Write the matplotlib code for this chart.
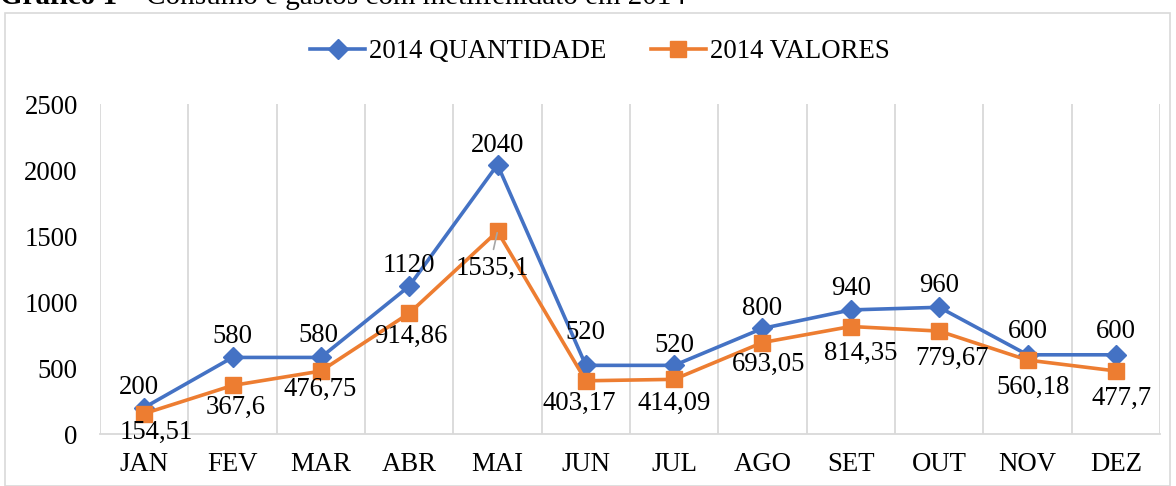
import matplotlib
matplotlib.use("Agg")
import matplotlib.pyplot as plt
from matplotlib.patches import Rectangle
from matplotlib.lines import Line2D

plt.rcParams['font.family'] = ['Liberation Serif', 'DejaVu Serif']

months = ["JAN", "FEV", "MAR", "ABR", "MAI", "JUN", "JUL", "AGO", "SET", "OUT", "NOV", "DEZ"]
quantidade = [200, 580, 580, 1120, 2040, 520, 520, 800, 940, 960, 600, 600]
valores = [154.51, 367.6, 476.75, 914.86, 1535.1, 403.17, 414.09, 693.05, 814.35, 779.67, 560.18, 477.7]
valores_labels = ["154,51", "367,6", "476,75", "914,86", "1535,1", "403,17", "414,09",
                  "693,05", "814,35", "779,67", "560,18", "477,7"]
series_names = ["2014 QUANTIDADE", "2014 VALORES"]
yticks = [0, 500, 1000, 1500, 2000, 2500]

BLUE = "#4472C4"
ORANGE = "#ED7D31"
GRID = "#D9D9D9"
FS = 19.3

W, H = 1176, 486
fig = plt.figure(figsize=(W / 100, H / 100), dpi=100)

# outer chart border
fig.patches.append(Rectangle((5 / W, 0), (1170 - 5) / W, 1 - 13 / H,
                             transform=fig.transFigure, fill=False,
                             edgecolor=GRID, linewidth=1.2))

# cut-off title
fig.text(0 / W, 1 - 4 / H, "Gráfico 1", fontsize=21, fontweight='bold',
         ha='left', va='baseline')
fig.text(686 / W, 1 - 4 / H, "– Consumo e gastos com metilfenidato em 2014",
         fontsize=21, ha='right', va='baseline')

ax = fig.add_axes([100 / W, (H - 434) / H, (1160 - 100) / W, (434 - 104) / H])
x = list(range(len(months)))

ax.plot(x, quantidade, color=BLUE, lw=2.6, marker='D', markersize=10, zorder=3)
ax.plot(x, valores, color=ORANGE, lw=2.6, marker='s', markersize=11, zorder=3)

ax.set_xlim(-0.5, len(months) - 0.5)
ax.set_ylim(0, 2500)
ax.set_yticks(yticks)
ax.set_yticklabels([str(v) for v in yticks], fontsize=FS)
ax.set_xticks(x)
ax.set_xticklabels(months, fontsize=FS)
ax.tick_params(axis='both', length=0)
ax.tick_params(axis='y', pad=16)
ax.tick_params(axis='x', pad=13)

# vertical gridlines at category boundaries
for b in range(len(months) + 1):
    ax.axvline(b - 0.5, color=GRID, lw=1.3, zorder=0)
for s in ['top', 'right', 'left']:
    ax.spines[s].set_visible(False)
ax.spines['bottom'].set_color(GRID)
ax.spines['bottom'].set_linewidth(1.3)

PX = 0.72  # points per pixel
q_off = [(-5, 20), (0, 21), (-2, 22), (0, 21), (0, 19), (0, 33), (0, 20),
         (0, 20), (0, 21), (0, 22), (0, 23), (0, 23)]
v_off = [(12, -19), (3, -22), (-1, -18), (2, -23), (-5, -37), (-7, -23), (0, -24),
         (6, -22), (10, -27), (13, -27), (6, -27), (6, -27)]

for i in x:
    dx, dy = q_off[i]
    ax.annotate(str(quantidade[i]), (i, quantidade[i]), xytext=(dx * PX, dy * PX),
                textcoords='offset points', ha='center', va='center', fontsize=FS,
                zorder=5)
    dx, dy = v_off[i]
    ax.annotate(valores_labels[i], (i, valores[i]), xytext=(dx * PX, dy * PX),
                textcoords='offset points', ha='center', va='center', fontsize=FS,
                zorder=5, annotation_clip=False)

# leader line for MAI value label
imax = valores.index(max(valores))
ax.annotate("", (imax, valores[imax]), xytext=(-4 * PX, -18 * PX),
            textcoords='offset points',
            arrowprops=dict(arrowstyle='-', color='#A6A6A6', lw=1.2,
                            shrinkA=0, shrinkB=1))

handles = [Line2D([], [], color=BLUE, lw=2.6, marker='D', markersize=10),
           Line2D([], [], color=ORANGE, lw=2.6, marker='s', markersize=11)]
fig.legend(handles, series_names, loc='center', bbox_to_anchor=(600 / W, 1 - 52 / H),
           ncol=2, frameon=False, fontsize=FS, handlelength=2.05, handletextpad=0.15,
           columnspacing=1.65, borderaxespad=0)

fig.savefig("out.png", dpi=100)
